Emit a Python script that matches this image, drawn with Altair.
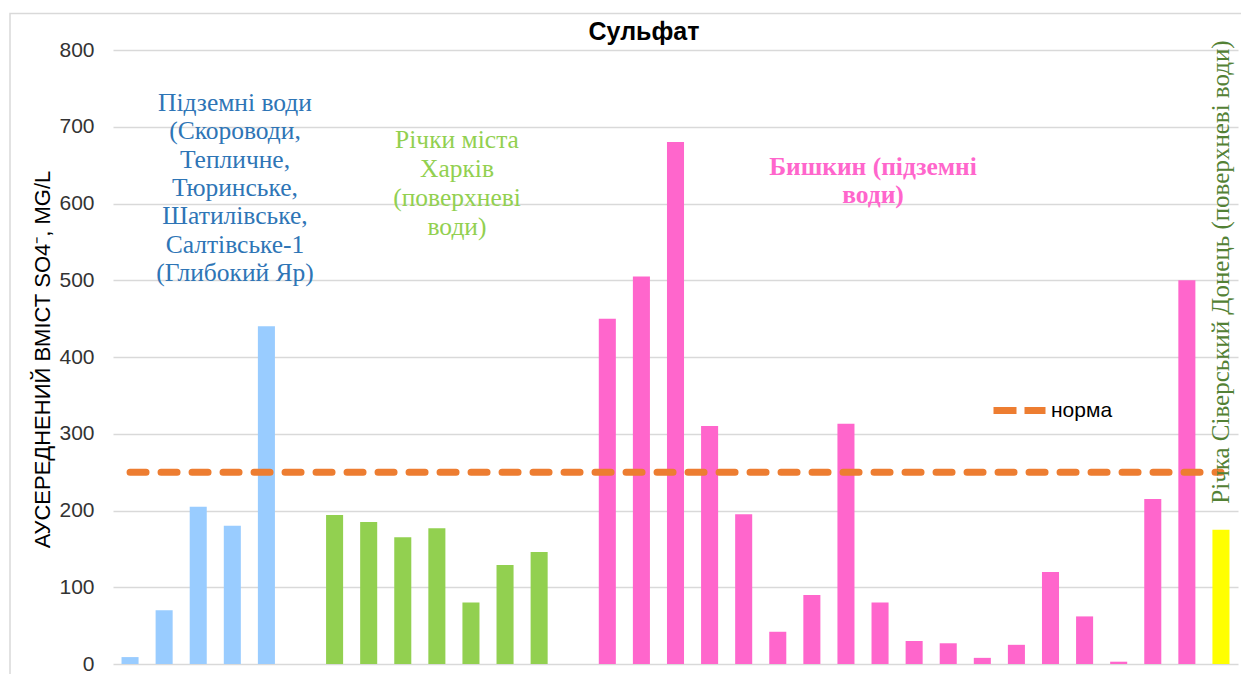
import altair as alt
import pandas as pd

# ---------------- data ----------------
title_text = "Сульфат"
y_title = "АУСЕРЕДНЕНИЙ ВМІСТ  SO4⁻, MG/L"
y_ticks = [0, 100, 200, 300, 400, 500, 600, 700, 800]

ground_values = [9, 70, 205, 180, 440]
rivers_values = [194, 185, 165, 177, 80, 129, 146]
bishkin_values = [450, 505, 680, 310, 195, 42, 90, 313, 80, 30, 27, 8, 25, 120, 62, 3, 215, 500]
donets_values = [175]

norm_value = 250
norm_label = "норма"

group_names = ["ground", "rivers", "bishkin", "donets"]
group_colors = ["#99CCFF", "#92D050", "#FF66CC", "#FFFF00"]
group_gaps = [1, 1, 0, 0]

ground_label = ["Підземні води", "(Скороводи,", "Тепличне,", "Тюринське,",
                "Шатилівське,", "Салтівське-1", "(Глибокий Яр)"]
rivers_label = ["Річки міста", "Харків", "(поверхневі", "води)"]
bishkin_label = ["Бишкин (підземні", "води)"]
donets_label = "Річка Сіверський Донець (поверхневі води)"

# ---------------- tables ----------------
rows = []
slot = 0
for name, vals, gap in zip(group_names,
                           [ground_values, rivers_values, bishkin_values, donets_values],
                           group_gaps):
    for v in vals:
        rows.append({"slot": slot, "value": v, "group": name})
        slot += 1
    slot += gap
n_slots = slot
bars_df = pd.DataFrame(rows)
norm_df = pd.DataFrame({"slot": [0, n_slots - 1],
                        "value": [norm_value, norm_value],
                        "series": [norm_label, norm_label]})

SANS = "Liberation Sans"
SERIF = "Liberation Serif"

x_enc = alt.X("slot:O",
              scale=alt.Scale(domain=list(range(n_slots)), paddingInner=0.5, paddingOuter=0.25),
              axis=None)
y_enc = alt.Y("value:Q",
              scale=alt.Scale(domain=[0, 800], nice=False),
              axis=alt.Axis(values=y_ticks, ticks=False, domain=False, grid=True,
                            gridColor="#d9d9d9", gridWidth=1.5,
                            labelFont=SANS, labelFontSize=21, labelColor="#333333",
                            labelPadding=19,
                            title=y_title, titleFont=SANS, titleFontSize=22,
                            titleFontWeight="normal", titleColor="black",
                            titleAngle=270, titleAlign="center", titleBaseline="middle",
                            titleX=-71, titleY=309))

bars = alt.Chart(bars_df).mark_bar().encode(
    x=x_enc,
    y=y_enc,
    color=alt.Color("group:N", scale=alt.Scale(domain=group_names, range=group_colors),
                    legend=None),
)

line = alt.Chart(norm_df).mark_line(strokeWidth=7, strokeDash=[16, 15], strokeCap="round").encode(
    x=alt.X("slot:O"),
    y=alt.Y("value:Q"),
    stroke=alt.Stroke("series:N", scale=alt.Scale(domain=[norm_label], range=["#ED7D31"]),
                      legend=alt.Legend(title=None, orient="none", legendX=877, legendY=331,
                                        symbolType="stroke", symbolStrokeWidth=7,
                                        symbolDash=[23, 8], symbolSize=2704,
                                        labelFont=SANS, labelFontSize=21, labelColor="black",
                                        labelOffset=2, padding=0)),
)

one = alt.Data(values=[{"k": 1}])

border = alt.Chart(one).mark_rect(fillOpacity=0, stroke="#d9d9d9", strokeWidth=1.5, clip=False).encode(
    x=alt.value(-103), x2=alt.value(1400), y=alt.value(-36.5), y2=alt.value(900))

t_title = alt.Chart(one).mark_text(text=title_text, font=SANS, fontSize=25, fontWeight="bold",
                                   color="black", align="center", baseline="middle").encode(
    x=alt.value(531), y=alt.value(-18))
t_ground = alt.Chart(one).mark_text(text=ground_label, font=SERIF, fontSize=25.5, lineHeight=28.3,
                                    color="#2E75B6", align="center", baseline="middle").encode(
    x=alt.value(122), y=alt.value(53))
t_rivers = alt.Chart(one).mark_text(text=rivers_label, font=SERIF, fontSize=25.5, lineHeight=29,
                                    color="#92D050", align="center", baseline="middle").encode(
    x=alt.value(344), y=alt.value(90))
t_bishkin = alt.Chart(one).mark_text(text=bishkin_label, font=SERIF, fontSize=25.5, lineHeight=28,
                                     fontWeight="bold", color="#FF66CC", align="center",
                                     baseline="middle").encode(
    x=alt.value(760), y=alt.value(117))
t_donets = alt.Chart(one).mark_text(text=donets_label, font=SERIF, fontSize=25, angle=270,
                                    color="#538135", align="center", baseline="middle").encode(
    x=alt.value(1108), y=alt.value(222))

chart = alt.layer(border, bars, line, t_title, t_ground, t_rivers, t_bishkin, t_donets).properties(
    width=1125, height=614,
    padding={"left": 105, "top": 42, "right": 3, "bottom": 10},
    autosize=alt.AutoSizeParams(type="none"),
).configure_view(stroke=None)

chart.save("out.html", embed_options={"renderer": "svg", "actions": False})
